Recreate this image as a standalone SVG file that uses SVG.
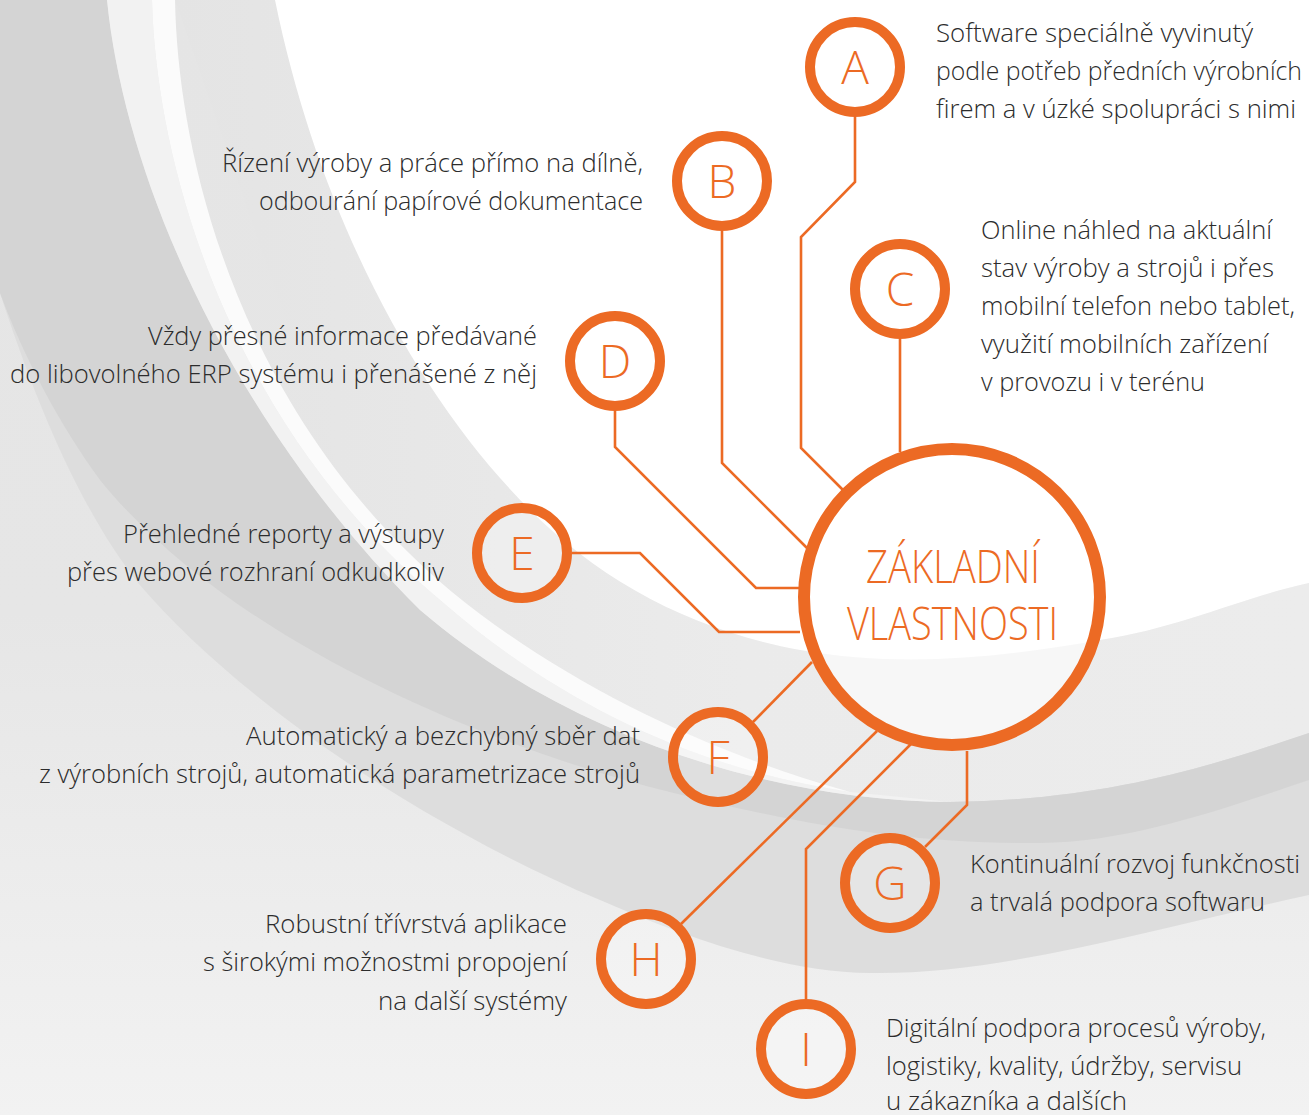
<svg xmlns="http://www.w3.org/2000/svg" width="1309" height="1115" viewBox="0 0 1309 1115">
  <defs>
    <linearGradient id="bgGrad" x1="0" y1="0" x2="0" y2="1">
      <stop offset="0" stop-color="#e5e5e5"/>
      <stop offset="0.55" stop-color="#e6e6e6"/>
      <stop offset="1" stop-color="#f2f2f2"/>
    </linearGradient>
    <linearGradient id="bandGrad" x1="0" y1="0" x2="1" y2="0">
      <stop offset="0" stop-color="#e4e4e4"/>
      <stop offset="0.5" stop-color="#ebebeb"/>
      <stop offset="1" stop-color="#ececec"/>
    </linearGradient>
    <style>
      .conn { fill: none; stroke: #ec6a24; stroke-width: 2.6; stroke-linejoin: miter; }
      .ring { fill: #ffffff; fill-opacity: 0.25; stroke: #ec6a24; stroke-width: 10; }
      .main { fill: #ffffff; fill-opacity: 0.6; stroke: #ec6a24; stroke-width: 12; }
      .letter { font-family: "Open Sans", "Liberation Sans", sans-serif; font-weight: 300; font-size: 46px; fill: #ec6a24; text-anchor: middle; }
      .title { font-family: "Open Sans", "Liberation Sans", sans-serif; font-weight: 300; font-size: 46px; fill: #ec6a24; }
      .txt { font-family: "Open Sans", "Liberation Sans", sans-serif; font-weight: 300; font-size: 25px; fill: #2c2c2c; }
    </style>
  </defs>

  <g id="background">
    <rect x="0" y="0" width="1309" height="1115" fill="url(#bgGrad)"/>
    <path d="M175,0 L275,0 C320,220 420,400 530,510 C600,580 690,630 800,650 C900,668 1000,658 1100,640 C1180,628 1240,598 1309,583 L1309,760 L900,820 L400,650 Z" fill="url(#bandGrad)"/>
    <path d="M275,0 L1309,0 L1309,583 C1240,598 1180,628 1100,640 C1000,658 900,668 800,650 C690,630 600,580 530,510 C420,400 320,220 275,0 Z" fill="#ffffff"/>
    <path d="M107,0 C125,180 230,420 420,610 C560,730 760,800 950,802 C1100,800 1200,770 1309,733 L1309,895 C1150,930 1000,975 870,973 C780,972 680,935 600,900 C400,815 230,690 139,584 C80,510 35,400 0,293 L0,0 Z" fill="#dddddd"/>
    <path d="M107,0 C125,180 230,420 420,610 C560,730 760,800 950,802 C1100,800 1200,770 1309,733 L1309,780 C1220,810 1130,842 1040,843 C900,845 780,820 650,787 C480,742 230,640 100,480 C60,425 25,360 0,293 L0,0 Z" fill="#d4d4d4"/>
    <path d="M107,0 L152,0 C156,160 225,420 440,600 C560,705 700,770 850,792 L950,802 C760,800 560,730 420,610 C230,420 125,180 107,0 Z" fill="#f2f2f2"/>
    <path d="M152,0 L175,0 C178,160 240,415 452,592 C560,680 700,750 850,792 C700,770 560,705 440,600 C225,420 156,160 152,0 Z" fill="#fbfbfb"/>
  </g>

  <g id="connectors">
    <polyline class="conn" points="855,117 855,182 801,237 801,448 843,490"/>
    <polyline class="conn" points="722,231 722,463 808,549"/>
    <polyline class="conn" points="900,339 900,452"/>
    <polyline class="conn" points="615,411 615,447 756,588 800,588"/>
    <polyline class="conn" points="572,553 640,553 719,632 800,632"/>
    <polyline class="conn" points="753,722 812,662"/>
    <polyline class="conn" points="681,924 877,731"/>
    <polyline class="conn" points="911,744 806,849 806,999"/>
    <polyline class="conn" points="967,751 967,805 925,847"/>
  </g>

  <g id="node-main">
    <circle class="main" cx="952" cy="597" r="148"/>
    <text class="title" x="866" y="583" textLength="174" lengthAdjust="spacingAndGlyphs">ZÁKLADNÍ</text>
    <text class="title" x="847" y="640" textLength="211" lengthAdjust="spacingAndGlyphs">VLASTNOSTI</text>
  </g>

  <g id="node-A">
    <circle class="ring" cx="855" cy="67" r="45"/>
    <text class="letter" x="855" y="84">A</text>
    <text class="txt" x="936" y="42" textLength="317" lengthAdjust="spacingAndGlyphs">Software speciálně vyvinutý</text>
    <text class="txt" x="936" y="80" textLength="366" lengthAdjust="spacingAndGlyphs">podle potřeb předních výrobních</text>
    <text class="txt" x="936" y="118" textLength="360" lengthAdjust="spacingAndGlyphs">firem a v úzké spolupráci s nimi</text>
  </g>

  <g id="node-B">
    <circle class="ring" cx="722" cy="181" r="45"/>
    <text class="letter" x="722" y="198">B</text>
    <text class="txt" x="222" y="172" textLength="421" lengthAdjust="spacingAndGlyphs">Řízení výroby a práce přímo na dílně,</text>
    <text class="txt" x="259" y="210" textLength="384" lengthAdjust="spacingAndGlyphs">odbourání papírové dokumentace</text>
  </g>

  <g id="node-C">
    <circle class="ring" cx="900" cy="289" r="45"/>
    <text class="letter" x="900" y="306">C</text>
    <text class="txt" x="981" y="239" textLength="291" lengthAdjust="spacingAndGlyphs">Online náhled na aktuální</text>
    <text class="txt" x="981" y="277" textLength="293" lengthAdjust="spacingAndGlyphs">stav výroby a strojů i přes</text>
    <text class="txt" x="981" y="315" textLength="314" lengthAdjust="spacingAndGlyphs">mobilní telefon nebo tablet,</text>
    <text class="txt" x="981" y="353" textLength="287" lengthAdjust="spacingAndGlyphs">využití mobilních zařízení</text>
    <text class="txt" x="981" y="391" textLength="224" lengthAdjust="spacingAndGlyphs">v provozu i v terénu</text>
  </g>

  <g id="node-D">
    <circle class="ring" cx="615" cy="361" r="45"/>
    <text class="letter" x="615" y="378">D</text>
    <text class="txt" x="148" y="345" textLength="389" lengthAdjust="spacingAndGlyphs">Vždy přesné informace předávané</text>
    <text class="txt" x="10" y="383" textLength="527" lengthAdjust="spacingAndGlyphs">do libovolného ERP systému i přenášené z něj</text>
  </g>

  <g id="node-E">
    <circle class="ring" cx="522" cy="553" r="45"/>
    <text class="letter" x="522" y="570">E</text>
    <text class="txt" x="123" y="543" textLength="321" lengthAdjust="spacingAndGlyphs">Přehledné reporty a výstupy</text>
    <text class="txt" x="67" y="581" textLength="377" lengthAdjust="spacingAndGlyphs">přes webové rozhraní odkudkoliv</text>
  </g>

  <g id="node-F">
    <circle class="ring" cx="718" cy="757" r="45"/>
    <text class="letter" x="718" y="774">F</text>
    <text class="txt" x="246" y="745" textLength="394" lengthAdjust="spacingAndGlyphs">Automatický a bezchybný sběr dat</text>
    <text class="txt" x="39" y="783" textLength="601" lengthAdjust="spacingAndGlyphs">z výrobních strojů, automatická parametrizace strojů</text>
  </g>

  <g id="node-G">
    <circle class="ring" cx="890" cy="883" r="45"/>
    <text class="letter" x="890" y="900">G</text>
    <text class="txt" x="970" y="873" textLength="330" lengthAdjust="spacingAndGlyphs">Kontinuální rozvoj funkčnosti</text>
    <text class="txt" x="970" y="911" textLength="295" lengthAdjust="spacingAndGlyphs">a trvalá podpora softwaru</text>
  </g>

  <g id="node-H">
    <circle class="ring" cx="646" cy="959" r="45"/>
    <text class="letter" x="646" y="976">H</text>
    <text class="txt" x="265" y="933" textLength="302" lengthAdjust="spacingAndGlyphs">Robustní třívrstvá aplikace</text>
    <text class="txt" x="203" y="971" textLength="364" lengthAdjust="spacingAndGlyphs">s širokými možnostmi propojení</text>
    <text class="txt" x="378" y="1010" textLength="189" lengthAdjust="spacingAndGlyphs">na další systémy</text>
  </g>

  <g id="node-I">
    <circle class="ring" cx="806" cy="1049" r="45"/>
    <text class="letter" x="806" y="1066">I</text>
    <text class="txt" x="886" y="1037" textLength="380" lengthAdjust="spacingAndGlyphs">Digitální podpora procesů výroby,</text>
    <text class="txt" x="886" y="1075" textLength="356" lengthAdjust="spacingAndGlyphs">logistiky, kvality, údržby, servisu</text>
    <text class="txt" x="886" y="1110" textLength="241" lengthAdjust="spacingAndGlyphs">u zákazníka a dalších</text>
  </g>
</svg>
